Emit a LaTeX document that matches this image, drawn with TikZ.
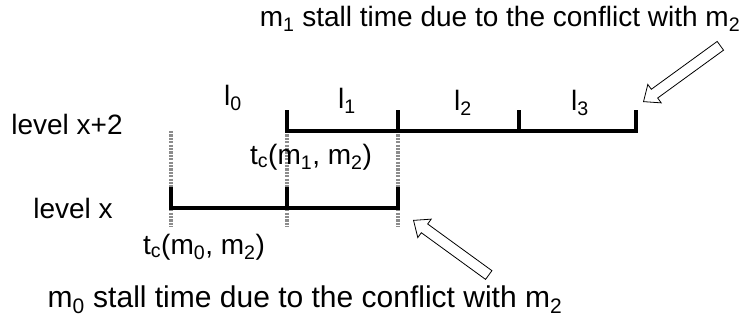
\documentclass[tikz,border=0pt]{standalone}
\usepackage{fontspec}
\setmainfont{Liberation Sans}
\usetikzlibrary{positioning,shapes.arrows}
\definecolor{guideclr}{RGB}{140,140,140}
\tikzset{
  span/.style={line width=3.2pt,line cap=rect},
  guide/.style={line width=3.4pt,draw=guideclr,dash pattern=on 2.2pt off 1.2pt},
  lbl/.style={inner sep=0pt,font=\fontsize{28}{32}\selectfont},
  biglbl/.style={lbl,font=\fontsize{30}{34}\selectfont},
  blockarrow/.style={single arrow,draw,thick,fill=white,inner sep=5pt,
                     minimum height=95pt,single arrow head extend=6pt,
                     single arrow tip angle=80},
}
\begin{document}
\begin{tikzpicture}[x=1pt,y=-1pt]
\useasboundingbox (0,0) rectangle (749,324);
% level x
\coordinate (a0) at (171,208);
\coordinate (a1) at (287,208);
\coordinate (a2) at (398,208);
% level x+2
\coordinate (b0) at (287,131);
\coordinate (b1) at (398,131);
\coordinate (b2) at (519,131);
\coordinate (b3) at (636,131);
\coordinate (g0) at (171,131);

\draw[guide] (g0) -- ([yshift=-19pt]a0);
\draw[guide] (b0) -- ([yshift=-19pt]a1);
\draw[guide] (b1) -- ([yshift=-19pt]a2);

\draw[span] (a0) -- (a2);
\draw[span] (b0) -- (b3);
\foreach \p in {a0,a1,a2,b0,b1,b2,b3}
  \draw[span] (\p) -- ++(0,-19);

\node[lbl] (lvlhi) at (67,124) {level x+2};
\node[lbl] (lvllo) at (73,208) {level x};
\node[lbl] (l0) at (233,98) {l\textsubscript{0}};
\node[lbl] (l1) at (347,101) {l\textsubscript{1}};
\node[lbl] (l2) at (463,103) {l\textsubscript{2}};
\node[lbl] (l3) at (580,103) {l\textsubscript{3}};
\node[lbl] (tc1) at (311,157) {t\textsubscript{c}(m\textsubscript{1}, m\textsubscript{2})};
\node[lbl] (tc0) at (204,247) {t\textsubscript{c}(m\textsubscript{0}, m\textsubscript{2})};
\node[lbl] (stall1) at (500,19) {m\textsubscript{1} stall time due to the conflict with m\textsubscript{2}};
\node[biglbl] (stall0) at (305,300) {m\textsubscript{0} stall time due to the conflict with m\textsubscript{2}};

\coordinate (hit1) at (643,102);
\coordinate (hit0) at (413,220);
\node[blockarrow,rotate=216,anchor=tip] (arr1) at (hit1) {};
\node[blockarrow,rotate=144,anchor=tip,minimum height=93pt] (arr0) at (hit0) {};
\end{tikzpicture}
\end{document}
